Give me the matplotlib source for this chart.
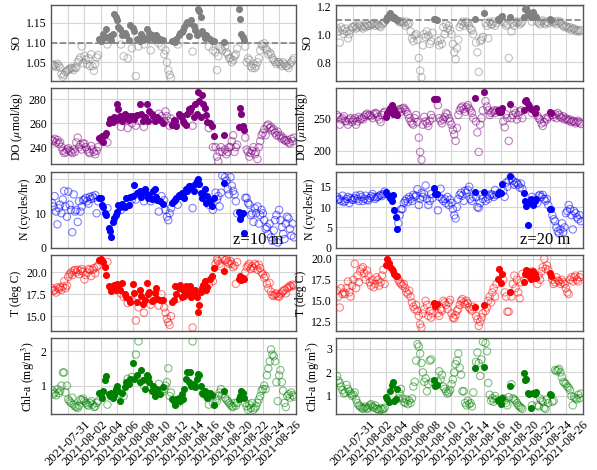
import matplotlib
matplotlib.use("Agg")
import matplotlib.dates as mdates
import matplotlib.pyplot as plt
import numpy as np
import pandas as pd

# sampling times (every 4 h, 6 per day, 29 Jul - 27 Aug 2021)
times = pd.date_range("2021-07-29", periods=180, freq="4h")
tick_dates = pd.date_range("2021-07-31", "2021-08-26", freq="2D")

# ---------------- z = 10 m ----------------
so_10 = [
    1.045, 1.040, 1.043, 1.038, 1.046, 1.041,
    1.036, 1.020, 1.013, 1.018, 1.025, 1.028,
    1.030, 1.033, 1.036, 1.034, 1.030, 1.037,
    1.036, 1.050, 1.056, 1.062, 1.090, 1.047,
    1.066, 1.056, 1.045, 1.060, 1.040, 1.070,
    1.040, 1.028, 1.045, 1.062, 1.068, 1.108,
    1.104, 1.112, 1.122, 1.115, 1.134, 1.095,
    1.112, 1.116, 1.106, 1.122, 1.172, 1.165,
    1.158, 1.140, 1.135, 1.095, 1.120, 1.065,
    1.125, 1.118, 1.060, 1.106, 1.145, 1.085,
    1.138, 1.130, 1.015, 1.108, 1.090, 1.105,
    1.122, 1.115, 1.095, 1.108, 1.134, 1.110,
    1.125, 1.080, 1.118, 1.112, 1.106, 1.120,
    1.115, 1.098, 1.110, 1.090, 1.106, 1.070,
    1.080, 1.050, 1.030, 1.018, 1.010, 1.105,
    1.104, 1.102, 1.110, 1.095, 1.118, 1.124,
    1.126, 1.132, 1.140, 1.146, 1.152, 1.116,
    1.150, 1.156, 1.077, 1.142, 1.132, 1.120,
    1.186, 1.180, 1.166, 1.130, 1.122, 1.112,
    1.120, 1.115, 1.090, 1.108, 1.104, 1.080,
    1.103, 1.075, 1.030, 1.065, 1.090, 1.085,
    1.080, 1.101, 1.090, 1.075, 1.070, 1.060,
    1.060, 1.050, 1.055, 1.065, 1.070, 1.085,
    1.186, 1.160, 1.122, 1.115, 1.106, 1.090,
    1.050, 1.060, 1.055, 1.040, 1.035, 1.045,
    1.035, 1.040, 1.050, 1.060, 1.080, 1.095,
    1.090, 1.098, 1.085, 1.080, 1.070, 1.075,
    1.070, 1.060, 1.055, 1.050, 1.045, 1.050,
    1.050, 1.045, 1.040, 1.050, 1.045, 1.040,
    1.040, 1.035, 1.045, 1.050, 1.055, 1.060,
]
do_10 = [
    246, 245, 247, 244, 246, 243,
    244, 240, 237, 235, 236, 238,
    239, 237, 236, 235, 238, 236,
    244, 248, 240, 242, 238, 243,
    243, 240, 238, 236, 235, 241,
    238, 236, 234, 237, 240, 248,
    246, 249, 244, 250, 252, 244,
    260, 264, 262, 261, 265, 263,
    276, 272, 266, 257, 262, 262,
    268, 265, 256, 263, 266, 260,
    266, 264, 258, 267, 262, 276,
    268, 262, 257, 265, 276, 262,
    270, 264, 268, 266, 262, 264,
    265, 268, 263, 266, 260, 262,
    270, 266, 262, 258, 264, 259,
    263, 262, 258, 262, 268, 266,
    266, 262, 260, 259, 268, 272,
    270, 273, 258, 265, 276, 268,
    286, 279, 265, 284, 276, 273,
    267, 261, 256, 260, 258, 240,
    249, 240, 232, 228, 236, 240,
    236, 250, 238, 234, 236, 240,
    240, 245, 250, 236, 240, 242,
    257, 273, 268, 258, 254, 248,
    238, 236, 232, 235, 237, 240,
    234, 236, 230, 240, 245, 250,
    252, 255, 250, 258, 259, 256,
    257, 254, 255, 252, 250, 253,
    249, 250, 247, 248, 246, 245,
    246, 244, 243, 247, 245, 248,
]
n_10 = [
    13.0, 12.0, 15.0, 10.5, 6.8, 11.5,
    12.5, 10.0, 14.0, 16.5, 12.0, 9.0,
    16.3, 12.5, 11.0, 4.5, 15.5, 10.5,
    11.0, 7.5, 13.5, 10.5, 12.0, 13.8,
    14.0, 14.5, 13.5, 12.8, 14.8, 14.2,
    15.0, 14.5, 15.3, 10.0, 13.5, 14.5,
    14.4, 12.3, 11.9, 10.1, 9.5, 11.5,
    5.6, 4.8, 3.0, 7.5, 8.5, 9.5,
    10.5, 12.5, 11.8, 11.0, 12.8, 12.0,
    11.8, 14.5, 13.0, 12.5, 14.8, 14.0,
    15.0, 18.2, 14.0, 16.0, 15.5, 16.5,
    14.8, 16.5, 13.5, 17.0, 15.5, 14.5,
    15.0, 13.5, 14.2, 16.5, 17.2, 14.7,
    14.0, 10.5, 13.5, 15.0, 12.8, 13.8,
    11.0, 9.0, 8.0, 10.0, 11.5, 13.0,
    13.5, 14.0, 14.5, 12.5, 15.3, 15.0,
    16.0, 15.5, 14.5, 17.0, 16.5, 18.0,
    18.0, 17.5, 11.5, 16.5, 18.5, 19.5,
    20.0, 18.5, 16.0, 14.5, 15.5, 17.0,
    13.0, 15.0, 12.5, 13.5, 12.0, 11.0,
    14.5, 16.0, 14.0, 15.0, 12.0, 16.0,
    21.0, 18.7, 20.5, 19.5, 17.0, 15.5,
    20.5, 18.0, 16.5, 15.5, 13.5, 10.0,
    10.4, 8.3, 9.5, 10.2, 4.4, 14.5,
    14.5, 13.0, 12.5, 9.5, 10.0, 7.5,
    11.5, 10.0, 12.0, 7.0, 9.5, 11.0,
    10.0, 8.0, 5.5, 6.0, 4.0, 7.0,
    3.0, 2.0, 5.0, 8.0, 9.5, 1.5,
    11.0, 8.0, 6.0, 4.0, 2.5, 7.0,
    9.0, 8.5, 5.5, 3.5, 7.0, 3.0,
]
t_10 = [
    18.2, 17.9, 18.0, 17.7, 18.3, 18.1,
    18.3, 18.0, 18.4, 19.0, 18.2, 18.5,
    19.5, 19.8, 20.0, 19.7, 20.2, 20.3,
    20.0, 20.3, 19.8, 20.2, 20.4, 20.1,
    19.2, 19.7, 20.0, 20.4, 20.3, 19.6,
    20.3, 20.5, 19.9, 20.6, 20.8, 21.4,
    21.5, 21.3, 21.2, 20.6, 19.7, 21.2,
    18.5, 18.3, 17.9, 18.2, 18.6, 18.0,
    18.7, 18.4, 18.0, 17.6, 18.8, 17.2,
    17.5, 17.2, 16.5, 17.0, 16.6, 16.8,
    18.7, 17.6, 14.5, 16.6, 16.0, 18.0,
    17.3, 16.4, 15.4, 16.9, 18.8, 17.5,
    17.8, 16.3, 16.7, 16.9, 17.7, 18.2,
    17.0, 16.2, 16.8, 17.5, 16.9, 16.0,
    15.4, 14.7, 14.3, 14.0, 15.0, 16.6,
    16.8, 18.5, 17.5, 17.0, 18.2, 18.6,
    17.2, 18.0, 17.3, 18.5, 17.6, 17.8,
    18.5, 17.2, 13.7, 17.6, 18.0, 17.2,
    15.5, 16.3, 17.8, 18.2, 18.6, 19.0,
    18.0, 18.3, 18.6, 19.2, 19.6, 19.0,
    20.5, 21.0, 21.5, 21.3, 21.0, 20.7,
    21.6, 20.2, 21.4, 21.5, 21.2, 21.0,
    21.3, 21.0, 20.6, 20.8, 18.7, 21.2,
    19.3, 19.6, 19.1, 19.4, 19.2, 20.0,
    20.6, 20.8, 21.0, 20.4, 20.7, 20.5,
    21.0, 20.8, 20.3, 20.9, 20.5, 20.0,
    19.8, 19.4, 19.6, 18.7, 18.2, 18.8,
    17.8, 17.4, 17.3, 17.5, 17.6, 17.3,
    17.2, 17.5, 17.7, 17.9, 18.0, 17.6,
    18.2, 18.3, 18.5, 18.4, 18.6, 18.5,
]
chl_10 = [
    0.87, 0.75, 0.80, 0.72, 0.90, 0.78,
    0.85, 1.00, 1.38, 1.38, 0.80, 1.00,
    0.60, 0.55, 0.50, 0.65, 0.45, 0.40,
    0.38, 0.35, 0.42, 0.60, 0.58, 0.62,
    0.55, 0.50, 0.45, 0.42, 0.50, 0.55,
    0.45, 0.38, 0.40, 0.50, 0.55, 0.80,
    0.75, 0.65, 0.85, 1.15, 1.28, 0.45,
    0.75, 0.70, 0.80, 0.65, 0.72, 0.90,
    1.00, 0.85, 0.55, 0.75, 0.80, 0.70,
    0.95, 1.10, 1.20, 1.05, 1.20, 1.25,
    1.65, 1.20, 1.90, 1.30, 2.28, 1.10,
    1.45, 1.15, 1.00, 0.90, 1.30, 1.25,
    1.10, 0.95, 0.85, 1.00, 0.70, 0.80,
    0.90, 1.05, 0.75, 0.80, 0.95, 0.90,
    1.00, 1.10, 1.50, 0.70, 0.80, 0.60,
    0.55, 0.45, 0.60, 0.50, 0.65, 0.55,
    0.75, 0.60, 0.90, 1.20, 1.40, 1.10,
    1.40, 1.00, 2.28, 1.05, 0.95, 1.20,
    1.35, 1.30, 1.00, 0.80, 0.75, 0.85,
    0.70, 0.65, 0.45, 0.80, 0.72, 0.50,
    0.45, 0.60, 0.55, 0.70, 0.80, 0.90,
    0.75, 0.85, 0.65, 0.60, 0.55, 0.50,
    0.45, 0.40, 0.38, 0.50, 0.42, 0.50,
    0.60, 0.70, 0.85, 0.80, 0.65, 0.50,
    0.40, 0.30, 0.45, 0.35, 0.50, 0.30,
    0.35, 0.40, 0.50, 0.60, 0.70, 0.85,
    0.90, 1.00, 0.90, 1.30, 1.50, 1.70,
    2.05, 1.90, 1.85, 1.70, 1.10, 0.55,
    1.30, 1.45, 1.10, 0.85, 0.50, 0.38,
    0.70, 0.75, 0.65, 0.80, 0.72, 0.68,
]

# ---------------- z = 20 m ----------------
so_20 = [
    1.04, 1.02, 0.94, 1.05, 1.03, 1.00,
    1.04, 1.02, 0.97, 1.00, 1.03, 1.05,
    1.05, 1.06, 1.04, 1.05, 1.07, 1.06,
    1.05, 1.04, 1.06, 1.05, 1.07, 1.06,
    1.06, 1.07, 1.07, 1.08, 1.06, 1.07,
    1.07, 1.06, 1.05, 1.07, 1.08, 1.09,
    1.105, 1.12, 1.14, 1.155, 1.13, 1.115,
    1.12, 1.108, 1.102, 1.095, 1.085, 1.09,
    1.09, 1.08, 1.06, 1.09, 1.07, 1.08,
    1.02, 0.97, 0.95, 0.99, 1.00, 0.96,
    0.83, 0.74, 0.69, 0.92, 1.00, 0.98,
    1.02, 0.99, 0.93, 0.95, 1.01, 1.11,
    1.108, 1.105, 0.95, 0.92, 0.96, 0.93,
    1.05, 1.00, 1.07, 1.04, 1.06, 1.03,
    1.00, 0.93, 0.87, 0.82, 0.90, 0.96,
    1.05, 1.07, 1.09, 1.06, 1.08, 1.09,
    1.08, 1.06, 1.04, 1.03, 1.00, 1.11,
    0.94, 0.87, 0.73, 0.95, 0.96, 0.98,
    1.15, 1.08, 1.06, 0.97, 1.09, 1.07,
    1.07, 1.09, 1.06, 1.08, 1.11, 1.105,
    1.12, 1.13, 1.09, 1.08, 1.06, 1.07,
    0.83, 1.125, 1.02, 1.08, 1.06, 1.09,
    1.08, 1.09, 1.07, 1.08, 1.09, 1.12,
    1.18, 1.19, 1.16, 1.14, 1.125, 1.09,
    1.16, 1.13, 1.12, 1.09, 1.08, 1.07,
    1.09, 1.098, 1.08, 1.07, 1.09, 1.08,
    1.11, 1.105, 1.09, 1.08, 1.09, 1.07,
    1.095, 1.08, 1.09, 1.07, 1.06, 1.05,
    1.06, 1.05, 1.04, 1.05, 1.03, 1.04,
    1.04, 1.03, 1.02, 1.03, 1.02, 1.03,
]
do_20 = [
    255, 252, 240, 248, 250, 253,
    246, 245, 240, 248, 250, 244,
    247, 250, 240, 245, 252, 248,
    250, 248, 252, 255, 257, 254,
    255, 253, 250, 256, 258, 257,
    252, 248, 244, 255, 258, 260,
    252, 258, 262, 266, 270, 256,
    264, 258, 255, 262, 264, 260,
    265, 266, 263, 260, 256, 250,
    245, 242, 240, 250, 255, 244,
    220, 198, 186, 240, 252, 245,
    242, 238, 246, 255, 250, 280,
    280, 280, 270, 250, 246, 242,
    248, 252, 258, 256, 250, 245,
    240, 232, 225, 215, 235, 255,
    262, 266, 268, 264, 260, 267,
    270, 265, 262, 258, 250, 281,
    245, 228, 198, 240, 250, 262,
    290, 276, 268, 262, 255, 258,
    260, 262, 258, 262, 262, 260,
    260, 266, 245, 236, 256, 250,
    215, 272, 250, 255, 262, 258,
    248, 255, 260, 262, 250, 262,
    276, 278, 272, 268, 264, 258,
    262, 258, 265, 254, 250, 248,
    242, 238, 244, 250, 248, 252,
    260, 258, 255, 252, 256, 250,
    258, 255, 252, 250, 253, 248,
    250, 248, 246, 248, 244, 246,
    245, 242, 244, 246, 243, 241,
]
n_20 = [
    12.5, 11.8, 12.0, 11.5, 12.8, 11.2,
    11.5, 12.0, 12.5, 11.0, 12.2, 11.8,
    11.8, 12.2, 12.8, 12.0, 11.5, 13.0,
    12.5, 11.5, 12.0, 12.8, 11.8, 11.6,
    12.2, 12.7, 13.2, 12.5, 12.0, 12.4,
    12.5, 12.8, 13.0, 12.7, 13.2, 13.8,
    13.8, 13.3, 12.8, 12.2, 11.4, 13.0,
    9.3, 7.6, 4.5, 6.0, 8.0, 9.5,
    9.5, 11.0, 11.5, 12.0, 11.2, 12.5,
    12.0, 11.5, 13.0, 12.5, 12.8, 14.4,
    10.5, 12.0, 13.5, 12.5, 13.2, 15.3,
    12.0, 10.5, 11.5, 13.2, 12.2, 14.7,
    13.2, 13.3, 9.2, 12.5, 14.5, 12.0,
    11.5, 12.0, 11.0, 12.5, 10.5, 11.8,
    11.0, 9.5, 8.0, 7.2, 10.0, 12.0,
    13.0, 13.5, 12.8, 11.5, 14.0, 13.5,
    14.2, 15.0, 12.0, 11.5, 12.5, 13.7,
    12.5, 10.0, 9.8, 11.0, 13.0, 12.0,
    13.8, 11.5, 12.5, 12.0, 12.8, 13.2,
    13.0, 12.5, 14.2, 13.0, 13.2, 13.7,
    13.5, 15.7, 14.0, 12.5, 16.0, 15.0,
    16.5, 17.7, 17.0, 16.5, 15.5, 16.0,
    16.0, 15.5, 14.8, 15.8, 14.5, 13.4,
    11.5, 10.3, 5.7, 11.0, 12.0, 12.5,
    10.5, 11.5, 12.0, 11.0, 12.8, 13.0,
    12.5, 13.0, 12.0, 11.5, 12.0, 10.5,
    9.4, 9.6, 8.0, 7.0, 6.5, 5.0,
    4.0, 3.5, 4.5, 6.0, 3.8, 5.0,
    8.5, 9.0, 10.5, 9.5, 8.0, 4.5,
    9.0, 8.5, 7.5, 7.0, 8.0, 6.5,
]
t_20 = [
    16.2, 15.5, 14.2, 16.5, 15.8, 16.0,
    15.8, 16.5, 17.3, 16.0, 15.5, 16.8,
    17.5, 19.4, 16.5, 18.0, 17.2, 18.5,
    18.8, 19.0, 18.3, 17.5, 18.6, 18.0,
    17.2, 16.8, 17.5, 16.6, 17.0, 17.8,
    17.5, 16.8, 17.2, 18.0, 18.7, 17.0,
    19.2, 20.0, 19.5, 19.0, 18.8, 18.5,
    18.2, 18.0, 17.9, 17.5, 17.2, 17.0,
    16.8, 17.0, 16.5, 16.0, 15.8, 16.2,
    15.5, 14.8, 14.3, 14.0, 14.5, 13.8,
    13.2, 12.2, 11.8, 13.5, 14.0, 15.0,
    14.5, 13.2, 13.8, 13.0, 13.5, 14.7,
    14.4, 14.6, 13.5, 13.2, 14.0, 13.8,
    15.0, 14.8, 14.5, 14.0, 14.8, 15.1,
    13.5, 13.0, 12.9, 13.3, 13.8, 14.0,
    14.5, 15.0, 15.2, 14.8, 14.6, 15.0,
    14.7, 14.2, 14.0, 13.8, 14.3, 14.3,
    13.2, 12.8, 12.0, 12.5, 13.0, 13.5,
    14.5, 13.8, 14.2, 15.0, 15.5, 14.8,
    16.0, 16.5, 15.5, 17.0, 17.6, 18.8,
    17.1, 18.2, 17.5, 16.0, 15.5, 13.7,
    13.7, 16.1, 15.5, 17.0, 18.0, 16.5,
    17.5, 16.0, 15.3, 17.2, 18.2, 17.2,
    18.2, 18.7, 18.6, 18.0, 17.6, 18.5,
    18.5, 18.2, 17.7, 17.0, 18.0, 17.5,
    18.5, 19.0, 20.0, 18.8, 19.2, 18.7,
    18.3, 18.0, 17.5, 17.0, 17.2, 17.8,
    17.4, 17.3, 17.0, 17.5, 17.2, 17.0,
    16.5, 16.0, 15.8, 17.5, 17.8, 17.3,
    17.8, 18.0, 17.5, 17.3, 17.8, 18.1,
]
chl_20 = [
    1.85, 1.65, 1.55, 1.40, 1.25, 1.10,
    1.15, 1.47, 1.30, 1.20, 1.10, 1.00,
    1.05, 1.15, 0.85, 0.70, 0.60, 0.55,
    0.50, 0.45, 0.50, 0.55, 0.45, 0.50,
    0.60, 0.65, 0.55, 0.50, 0.60, 0.45,
    0.45, 0.40, 0.48, 0.42, 0.45, 0.50,
    0.95, 0.85, 0.75, 1.20, 1.45, 1.60,
    0.80, 0.85, 1.30, 0.90, 1.10, 1.30,
    0.90, 0.75, 0.70, 0.85, 0.65, 0.80,
    0.70, 0.90, 1.40, 1.60, 2.50, 3.20,
    3.10, 2.80, 2.40, 2.00, 1.60, 1.75,
    1.20, 1.50, 2.50, 2.55, 1.60, 1.68,
    1.43, 1.45, 1.60, 2.05, 1.70, 1.90,
    1.40, 1.30, 1.20, 1.10, 1.15, 1.25,
    1.50, 1.70, 2.00, 2.35, 2.50, 2.80,
    2.20, 1.90, 1.20, 1.20, 0.70, 0.60,
    0.80, 0.65, 0.70, 0.55, 1.15, 2.18,
    2.45, 2.85, 2.40, 1.85, 2.55, 3.30,
    2.22, 3.25, 2.90, 1.55, 1.05, 0.80,
    0.90, 0.75, 1.00, 0.85, 0.83, 0.80,
    0.66, 0.90, 0.90, 0.80, 0.70, 0.60,
    0.95, 1.44, 1.50, 0.90, 0.85, 0.80,
    0.70, 0.60, 0.55, 0.50, 0.45, 1.96,
    1.68, 1.72, 1.14, 1.10, 0.48, 0.60,
    1.12, 1.10, 1.15, 0.60, 0.55, 0.90,
    0.80, 0.75, 0.50, 0.45, 0.85, 0.70,
    1.07, 1.05, 0.75, 0.80, 2.10, 2.05,
    2.10, 2.15, 2.00, 1.80, 1.60, 1.55,
    1.50, 1.40, 1.35, 1.25, 1.00, 0.60,
    0.95, 0.90, 0.85, 1.05, 0.90, 1.10,
]

so_threshold = 1.1

labels = ["SO", r"DO ($\mu$mol/kg)", "N (cycles/hr)", "T (deg C)",
          r"Chl-a (mg/m$^3$)"]
colors = ["gray", "purple", "blue", "red", "green"]

columns = [
    {"series": [so_10, do_10, n_10, t_10, chl_10], "depth": "z=10 m",
     "yticks": [[1.05, 1.10, 1.15], [240, 260, 280], [0, 10, 20],
                [15.0, 17.5, 20.0], [1, 2]],
     "ylims": [(1.003, 1.196), (225.6, 289.4), (0, 22.1), (13.3, 22.0),
               (0.17, 2.37)],
     "fmts": ["%.2f", "%d", "%d", "%.1f", "%d"]},
    {"series": [so_20, do_20, n_20, t_20, chl_20], "depth": "z=20 m",
     "yticks": [[0.8, 1.0, 1.2], [200, 250], [0, 5, 10, 15],
                [12.5, 15.0, 17.5, 20.0], [1, 2, 3]],
     "ylims": [(0.667, 1.211), (179, 296), (0, 18.7), (11.4, 20.45),
               (0.22, 3.45)],
     "fmts": ["%.1f", "%d", "%d", "%.1f", "%d"]},
]

plt.rcParams["font.family"] = ["Liberation Serif", "DejaVu Serif"]
plt.rcParams["mathtext.fontset"] = "stix"

fig = plt.figure(figsize=(5.97, 4.70), dpi=100)

col_left = [51 / 597, 336 / 597]
col_width = [245 / 597, 247 / 597]
row_bottom_px = [80.7, 164.3, 247.7, 331.0, 414.3]
row_h = 76 / 470

xlim = (pd.Timestamp("2021-07-28 21:00"), pd.Timestamp("2021-08-28 02:00"))

for c, col in enumerate(columns):
    so = np.array(col["series"][0])
    filled = so > so_threshold
    for r in range(5):
        ax = fig.add_axes([col_left[c], 1 - row_bottom_px[r] / 470,
                           col_width[c], row_h])
        vals = np.array(col["series"][r])
        ax.scatter(times[~filled], vals[~filled], s=28, facecolors="none",
                   edgecolors=colors[r], alpha=0.5, linewidths=0.8, zorder=3)
        ax.scatter(times[filled], vals[filled], s=26, color=colors[r],
                   linewidths=0, zorder=4)
        if r == 0:
            ax.axhline(so_threshold, color="gray", ls="--", lw=1.2, zorder=2)
        ax.set_xlim(xlim)
        ax.set_ylim(col["ylims"][r])
        ax.set_yticks(col["yticks"][r])
        ax.yaxis.set_major_formatter(plt.FormatStrFormatter(col["fmts"][r]))
        ax.set_xticks(tick_dates)
        ax.xaxis.set_major_formatter(mdates.DateFormatter("%Y-%m-%d"))
        ax.grid(True, color="#d5d5d5", lw=0.8, zorder=0)
        ax.set_axisbelow(True)
        for sp in ax.spines.values():
            sp.set_color("#555555")
            sp.set_linewidth(1.0)
        ax.tick_params(length=0, labelsize=9, pad=3)
        ax.tick_params(axis="y", labelsize=8.5)
        ax.set_ylabel(labels[r], fontsize=8.5, labelpad=3)
        if r < 4:
            ax.tick_params(labelbottom=False)
        else:
            for lab in ax.get_xticklabels():
                lab.set_rotation(45)
        if r == 2:
            ax.text(0.95, 0.0, col["depth"], transform=ax.transAxes,
                    ha="right", va="bottom", fontsize=12, zorder=5)

fig.savefig("out.png", dpi=100)
